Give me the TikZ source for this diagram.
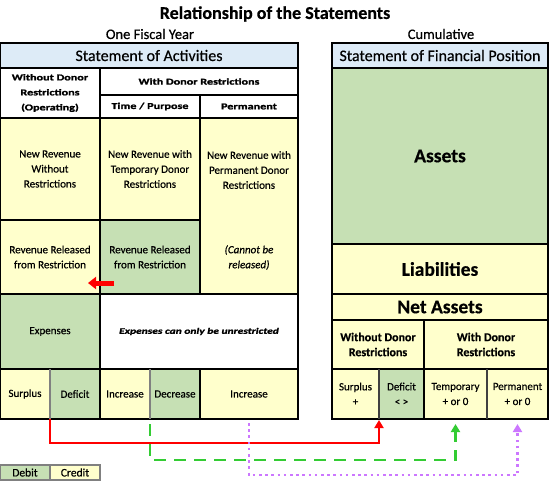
\documentclass[tikz,border=0pt]{standalone}
\usepackage{fontspec}
\setmainfont{Carlito}[FakeBold=0.5]
\newfontfamily\hdrfont{Carlito}[FakeStretch=1.35, FakeBold=1.6]
\usetikzlibrary{arrows.meta}
\definecolor{yel}{HTML}{FFFFCC}
\definecolor{grn}{HTML}{C6E0B4}
\definecolor{blu}{HTML}{DDEBF7}
\definecolor{redl}{HTML}{FF0000}
\definecolor{grnl}{HTML}{33CC33}
\definecolor{purl}{HTML}{CC77FF}
\tikzset{
  cell/.style={draw=black, line width=1.2pt, inner sep=1pt, outer sep=0pt, align=center,
    font=\fontsize{11}{15}\selectfont},
  hdr/.style={cell, fill=blu, font=\fontsize{16}{18}\selectfont},
  colhdr/.style={cell, fill=white, font=\hdrfont\bfseries\fontsize{9}{15}\selectfont},
  ycell/.style={cell, fill=yel},
  gcell/.style={cell, fill=grn},
  bigtxt/.style={font=\bfseries\fontsize{19.5}{21}\selectfont},
  subhdr/.style={font=\bfseries\fontsize{12}{15}\selectfont},
  txt/.style={inner sep=0pt, align=center, font=\fontsize{11}{15}\selectfont},
  graysep/.style={draw=gray, line width=1.2pt},
  redline/.style={draw=redl, line width=2.4pt, -{Triangle[width=9pt,length=8pt]}},
  grnline/.style={draw=grnl, line width=2.4pt, dash pattern=on 12pt off 8pt, -{Triangle[width=9pt,length=8pt]}},
  purline/.style={draw=purl, line width=2.4pt, dash pattern=on 2.6pt off 3.6pt, -{Triangle[width=9pt,length=8pt]}},
  legend/.style={draw=gray, line width=1.2pt, inner sep=0pt, outer sep=0pt, minimum height=15pt,
    font=\fontsize{11.5}{12}\selectfont}
}
\begin{document}
\begin{tikzpicture}[x=1pt,y=-1pt]
\useasboundingbox[fill=white] (0,0) rectangle (550,491);
% titles
\node[font=\bfseries\fontsize{18}{20}\selectfont] (title) at (275,14) {Relationship of the Statements};
\node[font=\fontsize{14.5}{16}\selectfont] (ofy) at (150,34) {One Fiscal Year};
\node[font=\fontsize{14.5}{16}\selectfont] (cum) at (441,34) {Cumulative};
% left table
\node[hdr, minimum width=298pt, minimum height=25pt] (hdrL) at (149,55.5) {Statement of Activities};
\node[colhdr, minimum width=100pt, minimum height=50pt] (h1) at (50,93) {Without Donor\\Restrictions\\(Operating)};
\node[colhdr, minimum width=198pt, minimum height=27pt] (h2) at (199,81.5) {With Donor Restrictions};
\node[colhdr, minimum width=100pt, minimum height=23pt] (h3) at (150,106.5) {Time / Purpose};
\node[colhdr, minimum width=98pt, minimum height=23pt] (h4) at (249,106.5) {Permanent};
\node[ycell, minimum width=100pt, minimum height=102pt] (r1) at (50,169) {New Revenue\\Without\\Restrictions};
\node[ycell, minimum width=100pt, minimum height=102pt] (r2) at (150,169) {New Revenue with\\Temporary Donor\\Restrictions};
\node[ycell, minimum width=98pt, minimum height=176pt] (r3) at (249,206) {};
\node[txt] (r3a) at (249,170) {New Revenue with\\Permanent Donor\\Restrictions};
\node[txt, font=\itshape\fontsize{11}{15}\selectfont] (r3b) at (249,257.5) {(Cannot be\\released)};
\node[ycell, minimum width=100pt, minimum height=74pt] (r4) at (50,257) {Revenue Released\\from Restriction};
\node[gcell, minimum width=100pt, minimum height=74pt] (r5) at (150,257) {Revenue Released\\from Restriction};
\node[gcell, minimum width=100pt, minimum height=75pt] (e1) at (50,331.5) {Expenses};
\node[cell, fill=white, minimum width=198pt, minimum height=75pt, font=\hdrfont\bfseries\itshape\fontsize{8.5}{12}\selectfont] (e2) at (199,331.5) {Expenses can only be unrestricted};
\node[ycell, minimum width=50pt, minimum height=50pt] (b1) at (25,394) {Surplus};
\node[gcell, minimum width=50pt, minimum height=50pt] (b2) at (75,394) {Deficit};
\node[ycell, minimum width=50pt, minimum height=50pt] (b3) at (125,394) {Increase};
\node[gcell, minimum width=50pt, minimum height=50pt] (b4) at (175,394) {Decrease};
\node[ycell, minimum width=98pt, minimum height=50pt] (b5) at (249,394) {Increase};
\draw[graysep] (b1.north east) -- (b1.south east);
\draw[graysep] (b3.north east) -- (b3.south east);
% small red arrow
\coordinate (rtail) at (114,283);
\coordinate (rtip) at (88,283);
\draw[draw=redl, line width=5pt, -{Triangle[width=12pt,length=8pt]}] (rtail) -- (rtip);
% right table
\node[hdr, minimum width=216pt, minimum height=25pt] (hdrR) at (440,55.5) {Statement of Financial Position};
\node[gcell, minimum width=216pt, minimum height=176pt, bigtxt] (assets) at (440,156) {Assets};
\node[ycell, minimum width=216pt, minimum height=50pt, bigtxt] (liab) at (440,269) {Liabilities};
\node[ycell, minimum width=216pt, minimum height=26pt, bigtxt] (net) at (440,307) {Net Assets};
\node[ycell, minimum width=92pt, minimum height=49pt, subhdr] (wo) at (378,344.5) {Without Donor\\Restrictions};
\node[ycell, minimum width=124pt, minimum height=49pt, subhdr] (wi) at (486,344.5) {With Donor\\Restrictions};
\node[ycell, minimum width=47pt, minimum height=50pt] (s1) at (355.5,394) {Surplus\\+};
\node[gcell, minimum width=45pt, minimum height=50pt] (s2) at (401.5,394) {Deficit\\< >};
\node[ycell, minimum width=63pt, minimum height=50pt] (s3) at (455.5,394) {Temporary\\+ or 0};
\node[ycell, minimum width=61pt, minimum height=50pt] (s4) at (517.5,394) {Permanent\\+ or 0};
\draw[draw=darkgray, line width=1.2pt] (s1.north east) -- (s1.south east);
\draw[draw=darkgray, line width=1.2pt] (s3.north east) -- (s3.south east);
% connectors
\draw[redline, shorten >=1pt] (b1.south east) -- ++(0,24) -| (s1.south east);
\draw[grnline, shorten <=5pt, shorten >=5pt] (b3.south east) -- ++(0,41) -| (s3.south);
\draw[purline, shorten <=4pt, shorten >=5pt] (b5.south) -- ++(0,56) -| (s4.south);
% legend
\node[legend, fill=grn, minimum width=50pt] (ldeb) at (25,472.5) {Debit};
\node[legend, fill=yel, minimum width=50pt] (lcre) at (75,472.5) {Credit};
\end{tikzpicture}
\end{document}
